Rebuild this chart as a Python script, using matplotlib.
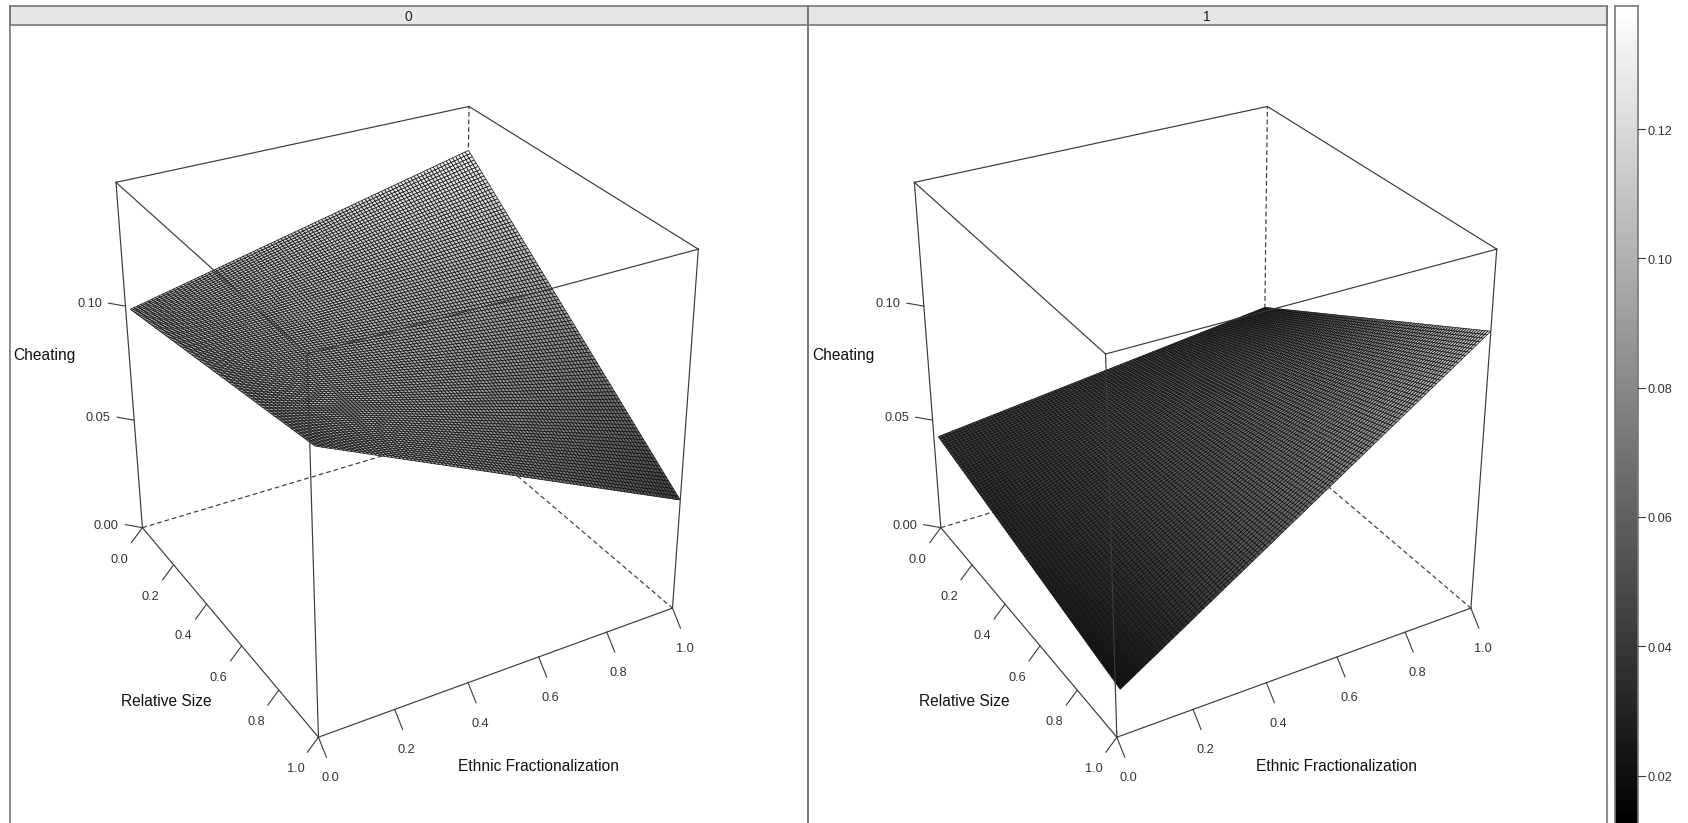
import numpy as np
import matplotlib
matplotlib.use("Agg")
import matplotlib.pyplot as plt
from matplotlib.collections import PolyCollection
from matplotlib.patches import Rectangle


plt.rcParams["font.family"] = ["Liberation Sans", "DejaVu Sans"]

PANEL_NAMES = ["0", "1"]
TICKS_XY = [0.0, 0.2, 0.4, 0.6, 0.8, 1.0]
TICKS_Z = [0.00, 0.05, 0.10]
TICKS_BAR = [0.02, 0.04, 0.06, 0.08, 0.10, 0.12]
Z_TOP = 0.151
BAR_MIN = 0.0127
BAR_MAX = 0.139
BAR_LEVELS = 68

# the surface starts a little inside the box on the fractionalization side
SURFACE_X = [0.012, 1.0]
SURFACE_Y = [0.0, 1.0]
# cheating at the corners, rows are relative size 0 and 1, columns fractionalization low and high
SURFACE_0 = [[0.0982, 0.1320], [0.1170, 0.0486]]
SURFACE_1 = [[0.0420, 0.0606], [0.0200, 0.1190]]

BOX_3D = [(0, 0, 0), (1, 0, 0), (1, 1, 0), (0, 1, 0),
          (0, 0, 1), (1, 0, 1), (1, 1, 1), (0, 1, 1)]
BOX_PX = [(142.0, 528.0), (467.2, 430.0), (670.7, 609.3), (318.0, 737.0),
          (115.7, 183.0), (467.2, 106.8), (699.5, 249.0), (308.5, 353.0)]
SOLID_EDGES = [(2, 3), (3, 0), (0, 4), (4, 5), (5, 6), (6, 7), (7, 4), (3, 7), (2, 6)]
DASHED_EDGES = [(0, 1), (1, 2), (1, 5)]

PANEL_LEFT = 10.0
PANEL_WIDTH = 798.4
PANEL_TOP = 6.0
STRIP_BOTTOM = 24.5
HEIGHT = 823
WIDTH = 1688
LINE_COLOR = "#3a3a3a"
BORDER_COLOR = "#777777"
TEXT_COLOR = "#333333"
TICK_SIZE = 9.2
LABEL_SIZE = 11.2


def fit_camera(points_3d, points_px):
    rows = []
    for (x, y, z), (u, v) in zip(points_3d, points_px):
        rows.append([x, y, z, 1, 0, 0, 0, 0, -u * x, -u * y, -u * z, -u])
        rows.append([0, 0, 0, 0, x, y, z, 1, -v * x, -v * y, -v * z, -v])
    _, _, vt = np.linalg.svd(np.array(rows, dtype=float))
    return vt[-1].reshape(3, 4)


def project(camera, x, y, z):
    x, y, z = np.asarray(x, float), np.asarray(y, float), np.asarray(z, float)
    pts = np.stack([x, y, z / Z_TOP, np.ones_like(x)], axis=-1)
    hom = pts @ camera.T
    return hom[..., 0] / hom[..., 2], hom[..., 1] / hom[..., 2]


def draw_surface(ax, camera, shift, corners, norm):
    cells = 100
    unit = np.linspace(0, 1, cells + 1)
    s, t = np.meshgrid(unit, unit)
    xs = SURFACE_X[0] + (SURFACE_X[1] - SURFACE_X[0]) * s
    ys = SURFACE_Y[0] + (SURFACE_Y[1] - SURFACE_Y[0]) * t
    c = np.array(corners)
    zs = (c[0, 0] * (1 - s) * (1 - t) + c[0, 1] * s * (1 - t)
          + c[1, 0] * (1 - s) * t + c[1, 1] * s * t)
    u, v = project(camera, xs, ys, zs)
    u = u + shift
    quads = np.stack([
        np.stack([u[:-1, :-1], v[:-1, :-1]], -1),
        np.stack([u[:-1, 1:], v[:-1, 1:]], -1),
        np.stack([u[1:, 1:], v[1:, 1:]], -1),
        np.stack([u[1:, :-1], v[1:, :-1]], -1),
    ], axis=2).reshape(-1, 4, 2)
    mids = 0.25 * (zs[:-1, :-1] + zs[:-1, 1:] + zs[1:, 1:] + zs[1:, :-1])
    mesh = PolyCollection(quads, array=mids.ravel(), cmap="gray", norm=norm,
                          edgecolors="#111111", linewidths=0.48, zorder=3)
    ax.add_collection(mesh)


def draw_box(ax, camera, shift, edges, style, zorder):
    for a, b in edges:
        p, q = BOX_3D[a], BOX_3D[b]
        u, v = project(camera, [p[0], q[0]], [p[1], q[1]],
                       [p[2] * Z_TOP, q[2] * Z_TOP])
        ax.plot(u + shift, v, color=LINE_COLOR, lw=0.85, ls=style, zorder=zorder)


def draw_ticks(ax, camera, shift, x, y, z, labels, tick_off, label_off):
    u, v = project(camera, x, y, z)
    for px, py, label in zip(u + shift, v, labels):
        ax.plot([px, px + tick_off[0]], [py, py + tick_off[1]],
                color=LINE_COLOR, lw=0.8, zorder=5)
        ax.text(px + label_off[0], py + label_off[1], label, ha="center", va="center",
                fontsize=TICK_SIZE, color=TEXT_COLOR, zorder=6)


def draw_panel(ax, index, name, corners, camera, norm):
    shift = index * PANEL_WIDTH
    left = PANEL_LEFT + shift
    ax.add_patch(Rectangle((left, PANEL_TOP), PANEL_WIDTH, STRIP_BOTTOM - PANEL_TOP,
                           facecolor="#e6e6e6", edgecolor=BORDER_COLOR, lw=1.2, zorder=2))
    ax.plot([left, left], [PANEL_TOP, HEIGHT], color=BORDER_COLOR, lw=1.2, zorder=2)
    ax.plot([left + PANEL_WIDTH] * 2, [PANEL_TOP, HEIGHT], color=BORDER_COLOR, lw=1.2, zorder=2)
    ax.text(left + PANEL_WIDTH / 2 - 1, (PANEL_TOP + STRIP_BOTTOM) / 2 + 1.5, name, ha="center",
            va="center", fontsize=10, color="#222222")

    draw_box(ax, camera, shift, DASHED_EDGES, (0, (4, 2.5)), 1)
    draw_surface(ax, camera, shift, corners, norm)
    draw_box(ax, camera, shift, SOLID_EDGES, "-", 4)

    n = len(TICKS_XY)
    xy_labels = [f"{t:.1f}" for t in TICKS_XY]
    draw_ticks(ax, camera, shift, TICKS_XY, [1.0] * n, [0.0] * n, xy_labels, (8, 20), (12, 41))
    draw_ticks(ax, camera, shift, [0.0] * n, TICKS_XY, [0.0] * n, xy_labels, (-11, 15), (-23, 32))
    draw_ticks(ax, camera, shift, [0.0] * len(TICKS_Z), [0.0] * len(TICKS_Z), TICKS_Z,
               [f"{t:.2f}" for t in TICKS_Z], (-17, -3), (-36, -2))

    for text, px, py in [("Cheating", 44.5, 355), ("Relative Size", 166, 702),
                         ("Ethnic Fractionalization", 538, 766.5)]:
        ax.text(px + shift, py, text, ha="center", va="center",
                fontsize=LABEL_SIZE, color="#111111", zorder=6)


def draw_colorbar(ax):
    left, right, tick_end = 1615.0, 1637.5, 1645.0
    per_unit = 129.3 / 0.02
    to_px = lambda value: 129.0 + (0.12 - np.asarray(value)) * per_unit
    edges = np.linspace(BAR_MIN, BAR_MAX, BAR_LEVELS + 1)
    mids = 0.5 * (edges[:-1] + edges[1:])
    ax.pcolormesh([left, right], to_px(edges), mids[:, None], cmap="gray",
                  vmin=BAR_MIN, vmax=BAR_MAX, zorder=2)
    for px in (left, right):
        ax.plot([px, px], [PANEL_TOP, HEIGHT], color=BORDER_COLOR, lw=1.2, zorder=3)
    ax.plot([left, right], [PANEL_TOP, PANEL_TOP], color=BORDER_COLOR, lw=1.2, zorder=3)
    for value in TICKS_BAR:
        py = to_px(value)
        ax.plot([right, tick_end], [py, py], color=LINE_COLOR, lw=0.8, zorder=3)
        ax.text(tick_end + 3, py + 2.5, f"{value:.2f}", ha="left", va="center",
                fontsize=TICK_SIZE, color=TEXT_COLOR)


fig = plt.figure(figsize=(WIDTH / 100, HEIGHT / 100), dpi=100)
ax = fig.add_axes([0, 0, 1, 1])
ax.set_xlim(0, WIDTH)
ax.set_ylim(HEIGHT, 0)
ax.axis("off")

camera = fit_camera(BOX_3D, BOX_PX)
norm = plt.Normalize(BAR_MIN, BAR_MAX)
for index, (name, corners) in enumerate(zip(PANEL_NAMES, [SURFACE_0, SURFACE_1])):
    draw_panel(ax, index, name, corners, camera, norm)
draw_colorbar(ax)

fig.savefig("out.png", dpi=100)
